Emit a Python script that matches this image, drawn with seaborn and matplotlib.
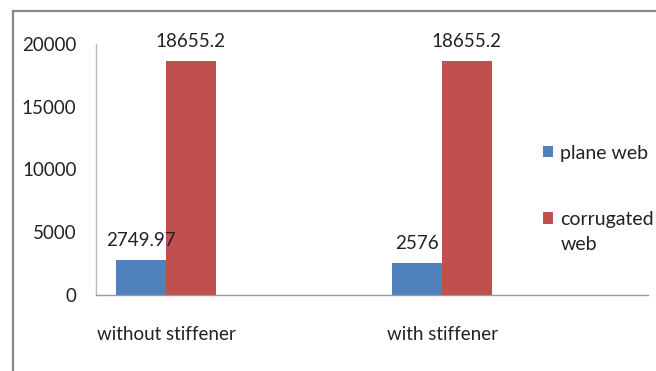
import matplotlib
matplotlib.use("Agg")
import matplotlib.pyplot as plt
from matplotlib.patches import Rectangle, Patch
import seaborn as sns
import pandas as pd

categories = ["without stiffener", "with stiffener"]
series_names = ["plane web", "corrugated web"]
plane_web = [2749.97, 2576]
corrugated_web = [18655.2, 18655.2]
value_labels_plane = ["2749.97", "2576"]
value_labels_corr = ["18655.2", "18655.2"]
y_ticks = [0, 5000, 10000, 15000, 20000]

df = pd.DataFrame({
    "category": categories * 2,
    "series": [series_names[0]] * 2 + [series_names[1]] * 2,
    "value": plane_web + corrugated_web,
})

sns.set_theme(style="white")
plt.rcParams["font.family"] = ["Lato", "DejaVu Sans"]

colors = {"plane web": "#4F81BD", "corrugated web": "#C0504D"}
text_color = "#222222"
fs = 13.5

fig = plt.figure(figsize=(6.56, 3.71), dpi=100)
ax = fig.add_axes([96 / 656, 1 - 295 / 371, 552 / 656, 251 / 371])

sns.barplot(data=df, x="category", y="value", hue="series", order=categories,
            hue_order=series_names, palette=colors, width=0.36, gap=0,
            saturation=1, ax=ax, legend=False, linewidth=0)

ax.set_ylim(0, 20000)
ax.set_xlim(-0.2536, 1.746)
ax.set_yticks(y_ticks)
ax.set_yticklabels([str(t) for t in y_ticks], fontsize=fs, color=text_color)
ax.tick_params(axis="y", length=0, pad=14)
ax.tick_params(axis="x", length=0, pad=22, labelsize=fs, labelcolor=text_color)
ax.set_xlabel("")
ax.set_ylabel("")
for side in ["top", "right"]:
    ax.spines[side].set_visible(False)
ax.spines["left"].set_color("#BBBBBB")
ax.spines["left"].set_linewidth(1)
ax.spines["bottom"].set_color("#999999")
ax.spines["bottom"].set_linewidth(1)

# value labels above each bar
for container, labels in zip(ax.containers, [value_labels_plane, value_labels_corr]):
    ax.bar_label(container, labels=labels, padding=8, fontsize=fs, color=text_color)

# legend on the right; the long entry wraps onto a second line
handles = [Patch(facecolor=colors[s], edgecolor="none") for s in series_names]
leg = fig.legend(handles, ["plane web", "corrugated"], loc="upper left",
                 bbox_to_anchor=(525 / 656, 1 - 127 / 371), frameon=False,
                 fontsize=14, handlelength=0.55, handleheight=0.55,
                 handletextpad=0.35, labelspacing=2.55, labelcolor=text_color)
fig.text(561 / 656, 1 - 245 / 371, "web", fontsize=14, color=text_color,
         ha="left", va="center")

# chart area frame
fig.patches.append(Rectangle((13 / 656, -0.2), 1.2, 1 - 11 / 371 + 0.2,
                             transform=fig.transFigure, fill=False,
                             edgecolor="#888888", linewidth=1.6))

fig.savefig("out.png", dpi=100)
